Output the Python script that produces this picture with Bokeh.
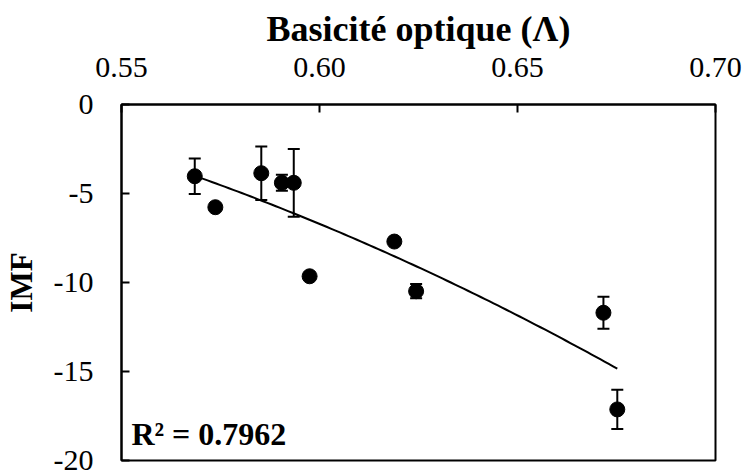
import numpy as np
from bokeh.plotting import figure
from bokeh.models import Range1d, ColumnDataSource, Whisker, TeeHead, Label, FixedTicker
from bokeh.embed import file_html
from bokeh.resources import INLINE

# Data
basicity = [0.5685, 0.5737, 0.5853, 0.5905, 0.5935, 0.5975, 0.6189, 0.6244, 0.6717, 0.6752]
imf = [-4.03, -5.77, -3.86, -4.40, -4.40, -9.65, -7.70, -10.49, -11.70, -17.13]
imf_err = [1.0, 0.0, 1.5, 0.45, 1.9, 0.0, 0.0, 0.4, 0.9, 1.1]
x_ticks = [0.55, 0.60, 0.65, 0.70]
x_labels = ["0.55", "0.60", "0.65", "0.70"]
y_ticks = [0, -5, -10, -15, -20]
y_labels = ["0", "-5", "-10", "-15", "-20"]
x_title = "Basicité optique (Λ)"
y_title = "IMF"
r2_text = "R² = 0.7962"

FONT = "Liberation Serif"

p = figure(width=745, height=470, output_backend="svg", toolbar_location=None,
           x_range=Range1d(0.55, 0.70), y_range=Range1d(-20, 0),
           x_axis_location="above",
           min_border_left=120, min_border_top=104, min_border_right=30, min_border_bottom=10)
p.grid.visible = False
p.outline_line_color = "black"
p.outline_line_width = 2
p.background_fill_color = "white"
p.border_fill_color = "white"

xa = p.xaxis[0]
ya = p.yaxis[0]
xa.ticker = FixedTicker(ticks=x_ticks)
ya.ticker = FixedTicker(ticks=y_ticks)
xa.major_label_overrides = dict(zip(x_ticks, x_labels))
ya.major_label_overrides = dict(zip(y_ticks, y_labels))
for ax in (xa, ya):
    ax.axis_line_color = "black"
    ax.axis_line_width = 2
    ax.major_tick_line_color = "black"
    ax.major_tick_line_width = 2
    ax.major_tick_in = 8
    ax.major_tick_out = 0
    ax.minor_tick_line_color = None
    ax.major_label_text_font = FONT
    ax.major_label_text_font_size = "30px"
    ax.major_label_text_color = "black"
    ax.axis_label_text_font = FONT
    ax.axis_label_text_font_style = "bold"
    ax.axis_label_text_color = "black"

xa.axis_label = x_title
xa.axis_label_text_font_size = "36px"
xa.major_label_standoff = 28
xa.axis_label_standoff = 6

ya.axis_label = y_title
ya.axis_label_text_font_size = "31px"
ya.major_label_standoff = 28
ya.axis_label_standoff = 12

# 2nd-order polynomial trendline fitted to the data
coef = np.polyfit(basicity, imf, 2)
tx = np.linspace(min(basicity), max(basicity), 100)
ty = np.polyval(coef, tx)
p.line(tx, ty, line_color="black", line_width=2)

ex = [x for x, e in zip(basicity, imf_err) if e > 0]
ey = [y for y, e in zip(imf, imf_err) if e > 0]
ee = [e for e in imf_err if e > 0]
esrc = ColumnDataSource(dict(x=ex, upper=[y + e for y, e in zip(ey, ee)],
                             lower=[y - e for y, e in zip(ey, ee)]))
w = Whisker(source=esrc, base="x", upper="upper", lower="lower", dimension="height",
            line_color="black", line_width=2,
            upper_head=TeeHead(size=12, line_color="black", line_width=2),
            lower_head=TeeHead(size=12, line_color="black", line_width=2))
p.add_layout(w)

p.scatter(basicity, imf, size=15, marker="circle", fill_color="black", line_color="black")

p.add_layout(Label(x=0.5525, y=-18.5, text=r2_text, text_font=FONT, text_font_style="bold",
                   text_font_size="32px", text_color="black", text_baseline="middle"))

open("out.html", "w").write(file_html(p, INLINE))
